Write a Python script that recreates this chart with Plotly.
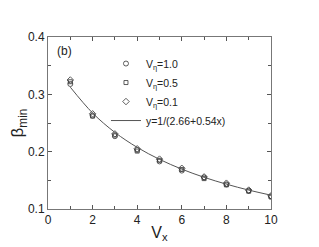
import plotly.graph_objects as go

vx = [1, 2, 3, 4, 5, 6, 7, 8, 9, 10]
beta_v10 = [0.318, 0.263, 0.227, 0.203, 0.183, 0.167, 0.155, 0.143, 0.132, 0.122]
beta_v05 = [0.322, 0.262, 0.229, 0.201, 0.185, 0.169, 0.153, 0.142, 0.131, 0.121]
beta_v01 = [0.325, 0.266, 0.231, 0.205, 0.187, 0.171, 0.156, 0.145, 0.133, 0.123]
fit_x = [1, 2, 3, 4, 5, 6, 7, 8, 9, 10]
fit_y = [0.3125, 0.2674, 0.2336, 0.2075, 0.1866, 0.1695, 0.1553, 0.1433, 0.1330, 0.1241]

FONT = "Liberation Sans, Arial, sans-serif"
col = "#333333"

fig = go.Figure()
fig.add_trace(go.Scatter(x=vx, y=beta_v10, mode="markers", name="V<sub>η</sub>=1.0",
                         marker=dict(symbol="circle-open", size=5, color=col, line=dict(width=0.8))))
fig.add_trace(go.Scatter(x=vx, y=beta_v05, mode="markers", name="V<sub>η</sub>=0.5",
                         marker=dict(symbol="square-open", size=4, color=col, line=dict(width=0.8))))
fig.add_trace(go.Scatter(x=vx, y=beta_v01, mode="markers", name="V<sub>η</sub>=0.1",
                         marker=dict(symbol="diamond-open", size=5, color=col, line=dict(width=0.8))))
fig.add_trace(go.Scatter(x=fit_x, y=fit_y, mode="lines", name="y=1/(2.66+0.54x)",
                         line=dict(color="#555555", width=1, shape="spline")))

axis_common = dict(showline=True, linecolor="#777777", linewidth=1, mirror="ticks",
                   ticks="inside", ticklen=4, tickcolor="#555555", tickwidth=1, showgrid=False,
                   zeroline=False, automargin=False,
                   tickfont=dict(family=FONT, size=12, color="#222"))

fig.update_xaxes(range=[0, 10], dtick=2, tick0=0,
                 minor=dict(ticks="inside", dtick=1, ticklen=3, tickcolor="#555555"),
                 title=dict(text="V<sub>x</sub>", font=dict(family=FONT, size=16, color="#222"), standoff=0),
                 **axis_common)
fig.update_yaxes(range=[0.1, 0.4], dtick=0.1, tick0=0.1, tickformat=".1f",
                 minor=dict(ticks="inside", dtick=0.05, ticklen=3, tickcolor="#555555"),
                 title=dict(text="β<sub>min</sub>", font=dict(family=FONT, size=17, color="#222"), standoff=2),
                 **axis_common)

fig.add_annotation(x=0.03, y=0.97, xref="paper", yref="paper", text="(b)", showarrow=False,
                   xanchor="left", yanchor="top", font=dict(family=FONT, size=12, color="#222"))

fig.update_layout(width=311, height=239, margin=dict(l=40, r=48, t=29, b=38),
                  paper_bgcolor="white", plot_bgcolor="white",
                  legend=dict(x=0.26, y=0.93, xanchor="left", yanchor="top",
                              bgcolor="rgba(0,0,0,0)", itemwidth=30, tracegroupgap=0,
                              font=dict(family=FONT, size=10.5, color="#222")),
                  showlegend=True)

fig.write_html("out.html")
